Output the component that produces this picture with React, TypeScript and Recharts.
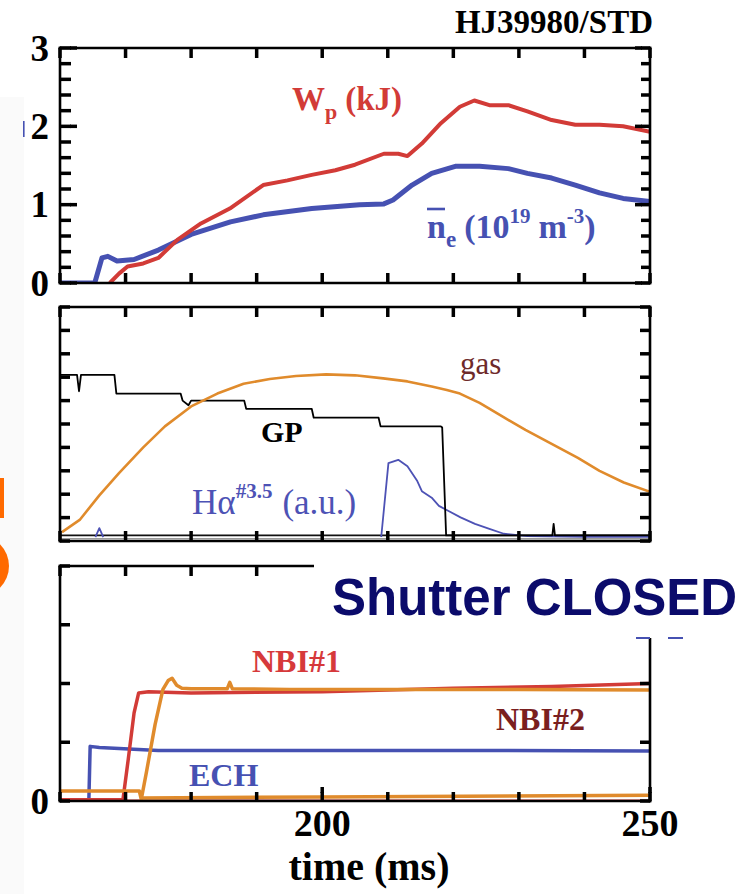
import React from 'react';
import { LineChart, Line, XAxis, YAxis, ReferenceLine } from 'recharts';

// ---------- shot HJ39980, time base in ms ----------
const timeDomain: [number, number] = [160, 250];
const timeTicks = [160, 170, 180, 190, 200, 210, 220, 230, 240, 250];
const timeLabels: Record<number, string> = { 200: '200', 250: '250' };

// Panel 1: stored energy and line-averaged density
const topTicks = [0, 0.2, 0.4, 0.6, 0.8, 1, 1.2, 1.4, 1.6, 1.8, 2, 2.2, 2.4, 2.6, 2.8, 3];
const topLabels: Record<number, string> = { 0: '0', 1: '1', 2: '2', 3: '3' };

const wpTime = [167.6, 169.0, 170.3, 172.7, 175.0, 177.9, 181.5, 185.9, 191.0, 194.7, 198.4, 202.0, 205.0, 209.4, 211.6, 213.0, 215.2, 218.1, 221.0, 223.2, 225.5, 228.4, 231.3, 235.0, 238.6, 242.3, 245.9, 250.0];
const wpKJ = [0, 0.12, 0.21, 0.25, 0.32, 0.55, 0.76, 0.95, 1.25, 1.31, 1.38, 1.44, 1.51, 1.65, 1.65, 1.62, 1.78, 2.04, 2.25, 2.33, 2.27, 2.27, 2.19, 2.08, 2.02, 2.02, 2.0, 1.93];

const neTime = [160, 165.3, 166.4, 167.3, 168.7, 171.3, 175.0, 180.0, 186.0, 191.0, 198.4, 205.7, 209.4, 210.8, 213.7, 216.7, 220.3, 224.0, 228.4, 231.3, 235.0, 238.6, 242.3, 245.9, 250.0];
const neValue = [0, 0, 0.32, 0.34, 0.28, 0.30, 0.42, 0.62, 0.78, 0.87, 0.95, 1.0, 1.01, 1.06, 1.25, 1.40, 1.49, 1.49, 1.46, 1.40, 1.34, 1.25, 1.15, 1.08, 1.04];

// Panel 2: gas puff, gas pressure and H-alpha (arbitrary units, 0..10)
const midTicks = [0, 1, 2, 3, 4, 5, 6, 7, 8, 9, 10];

const gasTime = [160.3, 163, 166, 169, 172.7, 176, 180, 184, 188, 192, 196, 200.6, 205, 209.3, 213, 216.7, 219, 221, 224, 227.6, 231, 235, 239, 242.3, 246, 250];
const gasValue = [0.38, 0.9, 1.95, 2.9, 4.0, 4.9, 5.75, 6.3, 6.72, 6.92, 7.05, 7.12, 7.08, 6.95, 6.82, 6.6, 6.45, 6.3, 5.9, 5.3, 4.75, 4.15, 3.55, 3.0, 2.5, 2.1];

const gpTime = [160, 162.6, 162.9, 163.2, 168.3, 168.6, 178.4, 178.7, 179.6, 180.0, 188.1, 188.4, 198.4, 198.7, 208.6, 208.9, 218.1, 218.3, 218.9, 235.1, 235.3, 235.5, 250];
const gpValue = [7.1, 7.1, 6.4, 7.1, 7.1, 6.3, 6.3, 6.0, 5.8, 6.0, 6.0, 5.65, 5.65, 5.27, 5.27, 4.9, 4.9, 4.85, 0.24, 0.24, 0.73, 0.24, 0.24];

const haTime = [165.4, 166.0, 166.6, 167.0, 209.0, 210.1, 211.6, 213.0, 214.5, 215.2, 216.7, 217.8, 219.2, 221.1, 223.3, 225.5, 227.7, 231.3, 240, 250];
const haValue: (number | null)[] = [0.17, 0.55, 0.17, null, 0.17, 3.33, 3.47, 3.19, 2.56, 2.13, 1.85, 1.5, 1.29, 1.01, 0.73, 0.52, 0.31, 0.21, 0.18, 0.18];

// Panel 3: heating power waveforms (0..4)
const botTicks = [0, 1, 2, 3, 4];
const botLabels: Record<number, string> = { 0: '0' };

const echTime = [160, 164.4, 164.6, 166, 175, 200, 225, 250];
const echValue = [0, 0, 0.93, 0.91, 0.86, 0.86, 0.86, 0.85];

const nbi1Time = [160, 169.6, 170.4, 171.3, 172.0, 173.5, 180, 200, 220, 235, 250];
const nbi1Value = [0.02, 0.02, 0.7, 1.5, 1.84, 1.86, 1.84, 1.86, 1.92, 1.95, 2.0];
const nbi1OffTime = [170, 250];
const nbi1OffValue = [0, 0];

const nbi2Time = [160, 172.1, 172.4, 173.2, 174.5, 175.7, 176.5, 177.1, 177.8, 178.6, 180, 185.5, 185.9, 186.3, 195, 210, 230, 250];
const nbi2Value = [0.17, 0.17, 0.03, 0.5, 1.3, 1.9, 2.05, 2.09, 1.97, 1.92, 1.91, 1.91, 2.02, 1.91, 1.9, 1.9, 1.9, 1.89];
const nbi2OffTime = [172.4, 200, 250];
const nbi2OffValue = [0.05, 0.07, 0.1];

const zip = (t: number[], v: (number | null)[]) => t.map((x, i) => ({ t: x, v: v[i] }));

const SERIF = "'Liberation Serif', 'Times New Roman', Times, serif";
const SANS = "'Liberation Sans', Arial, Helvetica, sans-serif";

const RED = '#d23b37';
const BLUE = '#4651b2';
const ORANGE = '#e08b2c';

type Side = 'left' | 'right' | 'top' | 'bottom';
interface TickCfg {
  side: Side;
  len: number; // inward tick length drawn by the axis itself
  extra?: (v: number) => number; // additional length for major ticks
  labels?: Record<number, string>;
  fontSize?: number;
}

const isInt = (v: number) => Math.abs(v - Math.round(v)) < 1e-6;
const TICK_W = 3.5;

// Label renderer; the tick line itself comes from the axis (negative tickSize = inward).
// With tickMargin = len, the label anchor lands back on the frame line.
function makeTick(cfg: TickCfg) {
  return (props: any) => {
    const x = Number(props.x);
    const y = Number(props.y);
    const v = Number(props.payload?.value);
    const ext = cfg.extra ? cfg.extra(v) : 0;
    let d: string | null = null;
    if (ext > 0) {
      if (cfg.side === 'left') d = `M${x + cfg.len - 1},${y}H${x + cfg.len + ext}`;
      if (cfg.side === 'right') d = `M${x - cfg.len + 1},${y}H${x - cfg.len - ext}`;
      if (cfg.side === 'bottom') d = `M${x},${y - cfg.len + 1}V${y - cfg.len - ext}`;
      if (cfg.side === 'top') d = `M${x},${y + cfg.len - 1}V${y + cfg.len + ext}`;
    }
    let text: string | null = null;
    if (cfg.labels) {
      for (const k of Object.keys(cfg.labels)) {
        if (Math.abs(Number(k) - v) < 1e-6) text = cfg.labels[Number(k)];
      }
    }
    const fs = cfg.fontSize ?? 37;
    return (
      <g>
        {d !== null ? <path d={d} stroke="#000" strokeWidth={TICK_W} fill="none" /> : null}
        {text !== null && cfg.side === 'left' ? (
          <text x={x - 11} y={y} dy="0.34em" textAnchor="end" fontFamily={SERIF} fontWeight="bold" fontSize={fs} fill="#000">
            {text}
          </text>
        ) : null}
        {text !== null && cfg.side === 'bottom' ? (
          <text x={x} y={y + 22} dy="0.34em" textAnchor="middle" fontFamily={SERIF} fontWeight="bold" fontSize={fs} fill="#000">
            {text}
          </text>
        ) : null}
      </g>
    );
  };
}

const axisLine = { stroke: '#000', strokeWidth: 2.6, strokeLinecap: 'square' as const };
const tickLine = { stroke: '#000', strokeWidth: TICK_W };

interface PanelProps {
  top: number;
  height: number;
  topAxis: number;
  bottomAxis: number;
  yDomain: [number, number];
  yTicks: number[];
  leftTick: TickCfg;
  rightTick: TickCfg;
  bottomTick: TickCfg;
  topTick: TickCfg;
  children: React.ReactNode;
}

function Panel(p: PanelProps) {
  const common = { allowDataOverflow: true, interval: 0 as const, axisLine, tickLine };
  return (
    <div style={{ position: 'absolute', left: 0, top: p.top }}>
      <LineChart width={754} height={p.height} margin={{ top: 0, right: 0, bottom: 0, left: 0 }}>
        <XAxis xAxisId="b" orientation="bottom" type="number" dataKey="t" domain={timeDomain} ticks={timeTicks} height={p.bottomAxis} tickSize={-p.bottomTick.len} tickMargin={p.bottomTick.len} tick={makeTick(p.bottomTick)} {...common} />
        <XAxis xAxisId="t" orientation="top" type="number" dataKey="t" domain={timeDomain} ticks={timeTicks} height={p.topAxis} tickSize={-p.topTick.len} tickMargin={p.topTick.len} tick={makeTick(p.topTick)} {...common} />
        <YAxis yAxisId="l" orientation="left" type="number" domain={p.yDomain} ticks={p.yTicks} width={60} tickSize={-p.leftTick.len} tickMargin={p.leftTick.len} tick={makeTick(p.leftTick)} {...common} />
        <YAxis yAxisId="r" orientation="right" type="number" domain={p.yDomain} ticks={p.yTicks} width={104} tickSize={-p.rightTick.len} tickMargin={p.rightTick.len} tick={makeTick(p.rightTick)} {...common} />
        {p.children}
      </LineChart>
    </div>
  );
}

export default function App() {
  const series = (data: any[], color: string, width: number, name: string) => (
    <Line
      key={name}
      name={name}
      xAxisId="b"
      yAxisId="l"
      data={data}
      dataKey="v"
      type="linear"
      stroke={color}
      strokeWidth={width}
      strokeLinejoin="round"
      dot={false}
      activeDot={false}
      connectNulls={false}
      isAnimationActive={false}
    />
  );

  return (
    <div style={{ position: 'absolute', left: 0, top: 0, width: 754, height: 894, background: '#fff', overflow: 'hidden' }}>
      <svg width={754} height={894} style={{ position: 'absolute', left: 0, top: 0 }}>
        <rect x={0} y={97} width={24} height={797} fill="#fafafa" />
        <rect x={23} y={121} width={1.6} height={16} fill={BLUE} />
        <rect x={0} y={478} width={4} height={40} fill="#ff6a00" />
        <circle cx={-22} cy={566} r={31} fill="#ff6a00" />
      </svg>

      <Panel
        top={0}
        height={302}
        topAxis={48}
        bottomAxis={19}
        yDomain={[0, 3]}
        yTicks={topTicks}
        leftTick={{ side: 'left', len: 11, extra: (v) => (isInt(v) ? 6 : 0), labels: topLabels }}
        rightTick={{ side: 'right', len: 9, extra: (v) => (isInt(v) ? 6 : 0) }}
        bottomTick={{ side: 'bottom', len: 10 }}
        topTick={{ side: 'top', len: 10 }}
      >
        {series(zip(neTime, neValue), BLUE, 5, 'ne')}
        {series(zip(wpTime, wpKJ), RED, 4, 'Wp')}
      </Panel>

      <Panel
        top={294}
        height={261}
        topAxis={13}
        bottomAxis={14}
        yDomain={[0, 10]}
        yTicks={midTicks}
        leftTick={{ side: 'left', len: 10 }}
        rightTick={{ side: 'right', len: 10 }}
        bottomTick={{ side: 'bottom', len: 10 }}
        topTick={{ side: 'top', len: 10 }}
      >
        <ReferenceLine xAxisId="b" yAxisId="l" y={0.1} stroke="#9a9a9a" strokeWidth={1.2} />
        <ReferenceLine xAxisId="b" yAxisId="l" y={0.24} stroke="#111" strokeWidth={1.6} />
        {series(zip(haTime, haValue), '#4d52b5', 1.8, 'Halpha')}
        {series(zip(gpTime, gpValue), '#000', 1.8, 'GP')}
        {series(zip(gasTime, gasValue), ORANGE, 2.6, 'gas')}
      </Panel>

      <Panel
        top={555}
        height={339}
        topAxis={11}
        bottomAxis={93}
        yDomain={[0, 4]}
        yTicks={botTicks}
        leftTick={{ side: 'left', len: 10, labels: botLabels }}
        rightTick={{ side: 'right', len: 10 }}
        bottomTick={{ side: 'bottom', len: 9, extra: (v) => (v % 50 === 0 ? 5 : 0), labels: timeLabels, fontSize: 38 }}
        topTick={{ side: 'top', len: 10 }}
      >
        {series(zip(nbi1OffTime, nbi1OffValue), RED, 3, 'NBI1off')}
        {series(zip(nbi2OffTime, nbi2OffValue), ORANGE, 3.5, 'NBI2off')}
        {series(zip(echTime, echValue), BLUE, 3.5, 'ECH')}
        {series(zip(nbi1Time, nbi1Value), RED, 3.5, 'NBI1')}
        {series(zip(nbi2Time, nbi2Value), ORANGE, 3.5, 'NBI2')}
      </Panel>

      <svg width={754} height={894} style={{ position: 'absolute', left: 0, top: 0, pointerEvents: 'none' }}>
        <text x={653} y={33} textAnchor="end" fontFamily={SERIF} fontWeight="bold" fontSize={33} fill="#000">HJ39980/STD</text>

        <text x={292} y={110} fontFamily={SERIF} fontWeight="bold" fontSize={33} fill={RED}>
          W<tspan dy={9} fontSize={22}>p</tspan>
          <tspan dy={-9} dx={8}>(kJ)</tspan>
        </text>

        <line x1={427} y1={209} x2={445} y2={209} stroke={BLUE} strokeWidth={2.6} />
        <text x={427} y={238} fontFamily={SERIF} fontWeight="bold" fontSize={34} fill={BLUE}>
          n<tspan dy={9} fontSize={23}>e</tspan>
          <tspan dy={-9} dx={8}>(10</tspan>
          <tspan dy={-15} fontSize={21}>19</tspan>
          <tspan dy={15} dx={8}>m</tspan>
          <tspan dy={-15} fontSize={21}>-3</tspan>
          <tspan dy={15}>)</tspan>
        </text>

        <text x={460} y={374} fontFamily={SERIF} fontSize={31} fill="#6e2a2a">gas</text>
        <text x={261} y={442} fontFamily={SERIF} fontWeight="bold" fontSize={30} fill="#000">GP</text>
        <text x={192} y={514} fontFamily={SERIF} fontSize={35} fill="#4d52b5">
          Hα<tspan dy={-16} fontSize={21} fontWeight="bold">#3.5</tspan>
          <tspan dy={16} dx={10}>(a.u.)</tspan>
        </text>

        <text x={252} y={672} fontFamily={SERIF} fontWeight="bold" fontSize={32} fill="#d6393b">NBI#1</text>
        <text x={496} y={730} fontFamily={SERIF} fontWeight="bold" fontSize={32} fill="#7a1f1f">NBI#2</text>
        <text x={189} y={786} fontFamily={SERIF} fontWeight="bold" fontSize={32} fill={BLUE}>ECH</text>

        <text x={369} y={880} textAnchor="middle" fontFamily={SERIF} fontWeight="bold" fontSize={40} fill="#000">time (ms)</text>

        <rect x={314} y={548} width={440} height={90} fill="#fff" />
        <rect x={636} y={637} width={14} height={2} fill={BLUE} />
        <rect x={668} y={637} width={15} height={2} fill={BLUE} />
        <text x={332} y={615} fontFamily={SANS} fontWeight="bold" fontSize={51} fill="#0b0b6b">Shutter CLOSED</text>
      </svg>
    </div>
  );
}
